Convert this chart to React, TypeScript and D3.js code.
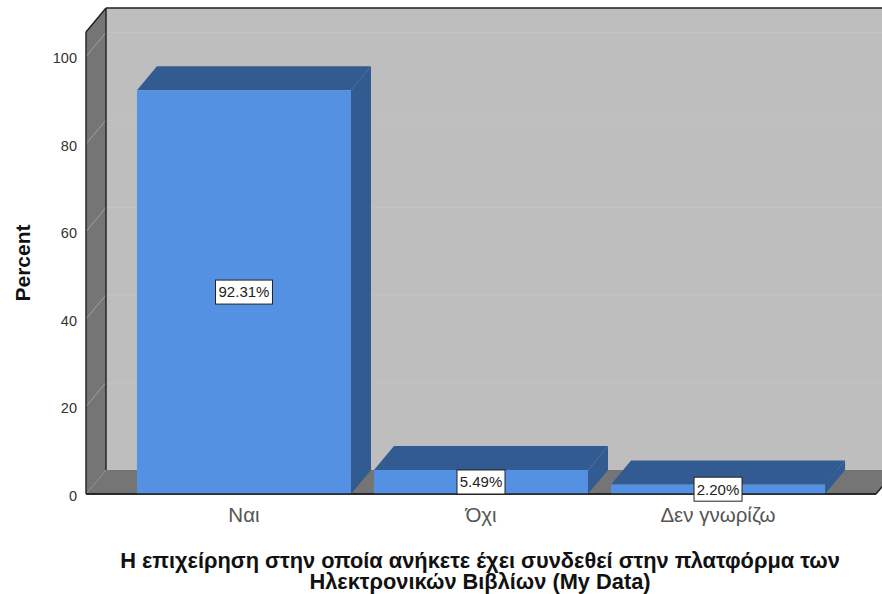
import { useEffect, useRef } from 'react';
import * as d3 from 'd3';

const categories = ['Ναι', 'Όχι', 'Δεν γνωρίζω'];
const percents = [92.31, 5.49, 2.2];
const yTicks = [0, 20, 40, 60, 80, 100];
const yAxisTitle = 'Percent';
const xAxisTitle = [
  'Η επιχείρηση στην οποία ανήκετε έχει συνδεθεί στην πλατφόρμα των',
  'Ηλεκτρονικών Βιβλίων (My Data)',
];

const WIDTH = 882;
const HEIGHT = 594;
const FONT = '"Liberation Sans", Arial, sans-serif';

// Front plane of the SPSS-style 3D box, and how far back the depth goes
const PLOT = { left: 86, right: 876, top: 32, bottom: 494 };
const DEPTH = { x: 20, y: -24 };
const Y_MAX = 105.6;

const COLORS = {
  wall: '#bebebe',
  side: '#757575',
  gridBack: '#c4c4c4',
  gridSide: '#a0a0a0',
  front: '#5591e2',
  dark: '#315b91',
  edge: '#1f1f1f',
};

export default function App() {
  const svgRef = useRef<SVGSVGElement>(null);

  useEffect(() => {
    if (!svgRef.current) return;
    const svg = d3.select(svgRef.current);
    svg.selectAll('*').remove();
    svg.style('font-family', FONT);

    const x = d3
      .scaleBand<string>()
      .domain(categories)
      .range([PLOT.left, PLOT.right])
      .paddingInner(0.097)
      .paddingOuter(0.215);
    const y = d3.scaleLinear().domain([0, Y_MAX]).range([PLOT.bottom, PLOT.top]);

    const poly = (pts: number[][], fill: string, stroke = 'none') =>
      svg
        .append('polygon')
        .attr('points', pts.map(p => p.join(',')).join(' '))
        .attr('fill', fill)
        .attr('stroke', stroke)
        .attr('stroke-width', stroke === 'none' ? 0 : 1);

    const backX = PLOT.left + DEPTH.x;
    const backFloor = PLOT.bottom + DEPTH.y;
    const backTop = PLOT.top + DEPTH.y;

    // Back wall, left wall and floor
    poly([[backX, backTop], [WIDTH, backTop], [WIDTH, backFloor], [backX, backFloor]], COLORS.wall);
    poly(
      [[PLOT.left, PLOT.bottom], [PLOT.left, PLOT.top], [backX, backTop], [backX, backFloor]],
      COLORS.side
    );
    poly(
      [
        [PLOT.left, PLOT.bottom],
        [backX, backFloor],
        [PLOT.right + DEPTH.x, backFloor],
        [PLOT.right, PLOT.bottom],
      ],
      COLORS.side
    );

    // Gridlines
    yTicks.slice(1).forEach(t => {
      svg
        .append('line')
        .attr('x1', PLOT.left)
        .attr('y1', y(t))
        .attr('x2', backX)
        .attr('y2', y(t) + DEPTH.y)
        .attr('stroke', COLORS.gridSide);
      svg
        .append('line')
        .attr('x1', backX)
        .attr('y1', y(t) + DEPTH.y)
        .attr('x2', WIDTH)
        .attr('y2', y(t) + DEPTH.y)
        .attr('stroke', COLORS.gridBack);
    });

    // Box edges
    const edges = [
      [[PLOT.left, PLOT.bottom], [PLOT.left, PLOT.top]],
      [[PLOT.left, PLOT.top], [backX, backTop]],
      [[backX, backTop], [WIDTH, backTop]],
      [[backX, backTop], [backX, backFloor]],
      [[PLOT.left, PLOT.bottom], [PLOT.right, PLOT.bottom]],
      [[PLOT.right, PLOT.bottom], [PLOT.right + DEPTH.x, backFloor]],
    ];
    edges.forEach(([a, b]) => {
      svg
        .append('line')
        .attr('x1', a[0])
        .attr('y1', a[1])
        .attr('x2', b[0])
        .attr('y2', b[1])
        .attr('stroke', COLORS.edge)
        .attr('stroke-width', 1.4);
    });

    // Bars: side, top, front
    categories.forEach((cat, i) => {
      const x0 = x(cat) ?? 0;
      const x1 = x0 + x.bandwidth();
      const y0 = y(0);
      const y1 = y(percents[i]);
      poly(
        [[x1, y0], [x1, y1], [x1 + DEPTH.x, y1 + DEPTH.y], [x1 + DEPTH.x, y0 + DEPTH.y]],
        COLORS.dark
      );
      poly(
        [[x0, y1], [x0 + DEPTH.x, y1 + DEPTH.y], [x1 + DEPTH.x, y1 + DEPTH.y], [x1, y1]],
        COLORS.dark
      );
      poly([[x0, y0], [x0, y1], [x1, y1], [x1, y0]], COLORS.front);
    });

    // Redraw the baseline over the bars
    svg
      .append('line')
      .attr('x1', PLOT.left)
      .attr('y1', PLOT.bottom)
      .attr('x2', PLOT.right)
      .attr('y2', PLOT.bottom)
      .attr('stroke', COLORS.edge)
      .attr('stroke-width', 1.4);

    // Value labels, box sized to its text
    categories.forEach((cat, i) => {
      const cx = (x(cat) ?? 0) + x.bandwidth() / 2;
      const cy = (y(0) + y(percents[i])) / 2;
      const boxW = i === 0 ? 57 : 48;
      const boxH = 24;
      svg
        .append('rect')
        .attr('x', cx - boxW / 2)
        .attr('y', cy - boxH / 2)
        .attr('width', boxW)
        .attr('height', boxH)
        .attr('fill', '#ffffff')
        .attr('stroke', '#222222');
      svg
        .append('text')
        .attr('x', cx)
        .attr('y', cy)
        .attr('dy', '0.36em')
        .attr('text-anchor', 'middle')
        .attr('font-size', '15px')
        .attr('fill', '#222222')
        .text(`${percents[i].toFixed(2)}%`);
    });

    // Y axis numbers
    const yAxis = d3.axisLeft(y).tickValues(yTicks).tickSize(0).tickPadding(9);
    const yG = svg.append('g').attr('transform', `translate(${PLOT.left}, 1.5)`).call(yAxis);
    yG.select('.domain').remove();
    yG.selectAll('text')
      .attr('font-size', '14.5px')
      .attr('font-family', FONT)
      .attr('fill', '#333333');

    // Category labels
    const xAxis = d3.axisBottom(x).tickSize(0).tickPadding(13);
    const xG = svg.append('g').attr('transform', `translate(0, ${PLOT.bottom})`).call(xAxis);
    xG.select('.domain').remove();
    xG.selectAll('text')
      .attr('font-size', '20.5px')
      .attr('font-family', FONT)
      .attr('fill', '#555555');

    // Axis titles
    svg
      .append('text')
      .attr('transform', 'translate(30, 263) rotate(-90)')
      .attr('text-anchor', 'middle')
      .attr('font-size', '21px')
      .attr('font-weight', '700')
      .attr('fill', '#111111')
      .text(yAxisTitle);

    xAxisTitle.forEach((line, i) => {
      svg
        .append('text')
        .attr('x', 480)
        .attr('y', 568 + i * 21)
        .attr('text-anchor', 'middle')
        .attr('font-size', '21.8px')
        .attr('font-weight', '700')
        .attr('fill', '#111111')
        .text(line);
    });
  }, []);

  return (
    <svg
      ref={svgRef}
      width={WIDTH}
      height={HEIGHT}
      style={{ position: 'absolute', top: 0, left: 0, background: '#ffffff' }}
    />
  );
}
